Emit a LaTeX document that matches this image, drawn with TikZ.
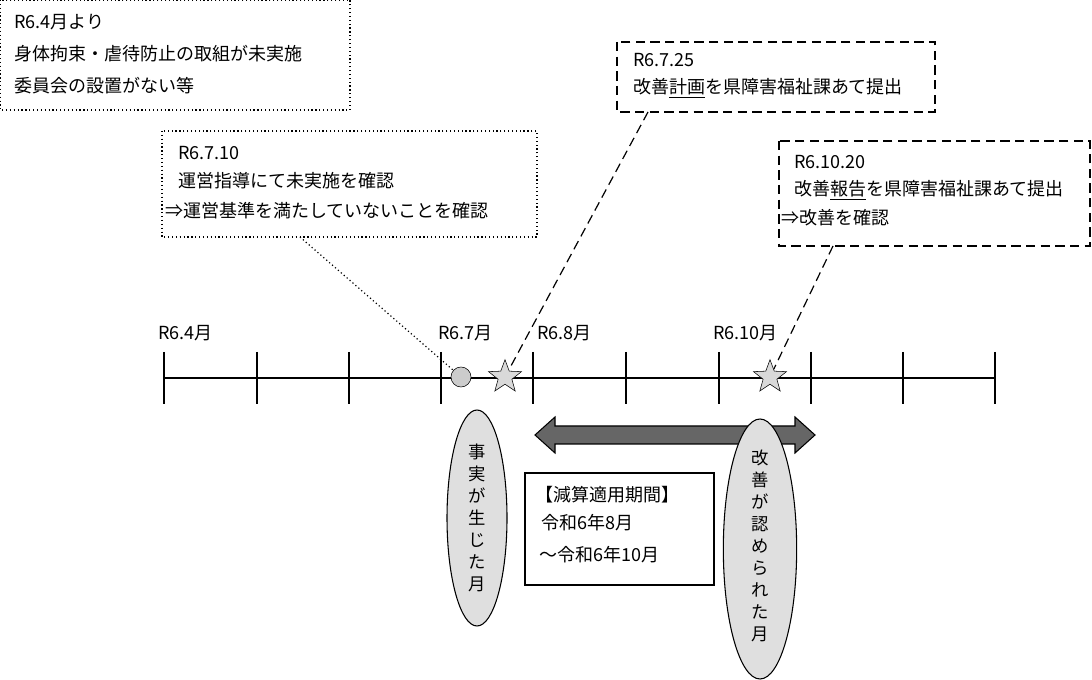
\documentclass[tikz,border=0pt]{standalone}
\usepackage{fontspec}
\setmainfont{Noto Sans CJK JP}
\usetikzlibrary{shapes.geometric}
\begin{document}
\begin{tikzpicture}[x=0.75pt,y=-0.75pt,
  txt/.style={anchor=west,inner sep=0,font=\fontsize{13.5}{15}\selectfont},
  vtxt/.style={align=center,inner sep=0,font=\fontsize{13}{16.5}\selectfont},
  tick/.style={line width=0.8pt}]
\useasboundingbox (0,0) rectangle (1092,680);
% boxes
\draw[dotted,line width=0.9pt] (0,0) rectangle (350,110);
\node[txt] (a1) at (14,22) {R6.4月より};
\node[txt] (a2) at (14,54) {身体拘束・虐待防止の取組が未実施};
\node[txt] (a3) at (14,86) {委員会の設置がない等};
\draw[dotted,line width=0.9pt] (162,131) rectangle (537,237);
\coordinate (b2) at (300,237);
\node[txt] at (178,153) {R6.7.10};
\node[txt] at (178,181) {運営指導にて未実施を確認};
\node[txt] at (165,211) {⇒運営基準を満たしていないことを確認};
\draw[dashed,dash pattern=on 7pt off 4pt,line width=0.9pt] (617,42) rectangle (935,112);
\coordinate (b3) at (648,112);
\node[txt] at (633,60) {R6.7.25};
\node[txt] at (633,88) {改善\underline{計画}を県障害福祉課あて提出};
\draw[dashed,dash pattern=on 7pt off 4pt,line width=0.9pt] (779,141) rectangle (1090,246);
\coordinate (b4) at (833,246);
\node[txt] at (794,162) {R6.10.20};
\node[txt] at (794,190) {改善\underline{報告}を県障害福祉課あて提出};
\node[txt] at (781,218) {⇒改善を確認};
% timeline
\draw[line width=0.8pt] (164,378) -- (995,378);
\foreach \x in {164,257,349,441,533,626,719,811,903,995}
  \draw[tick] (\x,352) -- (\x,404);
\node[txt] at (158,333) {R6.4月};
\node[txt] at (438,333) {R6.7月};
\node[txt] at (537,333) {R6.8月};
\node[txt] at (713,333) {R6.10月};
\node[circle,draw,fill=gray!40,minimum size=15pt,inner sep=0] (c) at (461,377) {};
\node[star,star points=5,star point ratio=2.4,draw,fill=gray!30,minimum size=26pt,inner sep=0] (s1) at (505,377) {};
\node[star,star points=5,star point ratio=2.4,draw,fill=gray!30,minimum size=26pt,inner sep=0] (s2) at (770,377) {};
\draw[dotted,line width=0.9pt] (b2) -- (c);
\draw[dashed,dash pattern=on 7pt off 4pt,line width=0.9pt] (b3) -- (s1);
\draw[dashed,dash pattern=on 7pt off 4pt,line width=0.9pt] (b4) -- (s2);
% double arrow
\draw[fill=gray!80!black,line width=0.8pt] (535,435) -- (555,417) -- (555,426) -- (795,426) -- (795,417) -- (815,435) -- (795,453) -- (795,444) -- (555,444) -- (555,453) -- cycle;
% ellipses
\node[ellipse,draw,fill=gray!25,minimum width=45pt,minimum height=162pt,line width=0.8pt] (e1) at (477,518) {};
\node[vtxt] at (e1) {事\\実\\が\\生\\じ\\た\\月};
\node[ellipse,draw,fill=gray!25,minimum width=55pt,minimum height=195pt,line width=0.8pt] (e2) at (760,549) {};
\node[vtxt] at (760,546) {改\\善\\が\\認\\め\\ら\\れ\\た\\月};
% period box
\draw[fill=white,line width=0.8pt] (525,473) rectangle (714,585);
\node[txt] at (535,495) {【減算適用期間】};
\node[txt] at (541,523) {令和6年8月};
\node[txt] at (539,555) {～令和6年10月};
\end{tikzpicture}
\end{document}
